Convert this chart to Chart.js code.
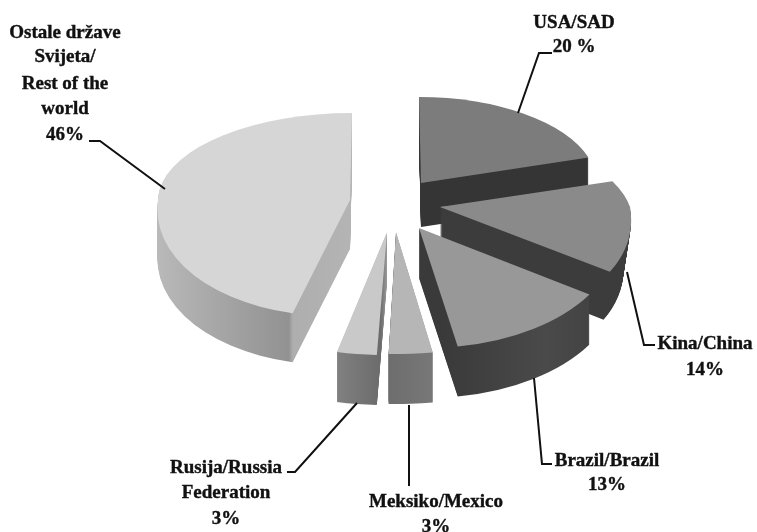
<!DOCTYPE html>
<html>
<head>
<meta charset="utf-8">
<style>html,body{margin:0;padding:0;background:#fff}canvas{display:block}</style>
<script src="https://cdn.jsdelivr.net/npm/chart.js@4"></script>
</head>
<body>
<canvas id="c" width="757" height="532"></canvas>
<script>
// ---- data ----
const categories = ['USA/SAD', 'Kina/China', 'Brazil/Brazil', 'Meksiko/Mexico', 'Rusija/Russia Federation', 'Ostale države Svijeta/Rest of the world'];
const values = [20, 14, 13, 3, 3, 46];
const labelLines = [
  ['USA/SAD', '20 %'],
  ['Kina/China', '14%'],
  ['Brazil/Brazil', '13%'],
  ['Meksiko/Mexico', '3%'],
  ['Rusija/Russia', 'Federation', '3%'],
  ['Ostale države', 'Svijeta/', 'Rest of the', 'world', '46%']
];
const topColors = ['#7c7c7c', '#8a8a8a', '#989898', '#b6b6b6', '#c9c9c9', '#d6d6d6'];

// ---- styling of the 3D view (not data) ----
const views = [
  {ax:421, ay:183, depth:44, rx:176, up:[86,.023], side:[[0,'#353535'],[1,'#353535']]},
  {ax:440, ay:207, depth:48, rx:190, taper:.04, up:[87,.35], down:[117,.18], side:[[0,'#3c3c3c'],[1,'#3c3c3c']]},
  {ax:419, ay:228, depth:50, rx:200, down:[120,.06], side:[[.5,'#3a3a3a'],[.55,'#3a3a3a'],[.8,'#4a4a4a'],[1,'#3e3e3e']]},
  {ax:396, ay:232, depth:50, rx:233, down:[122,0], side:[[.45,'#6a6a6a'],[.6,'#7a7a7a']]},
  {ax:387, ay:232, depth:50, rx:212, down:[123,-.028], side:[[.38,'#828282'],[.49,'#6c6c6c'],[.5,'#999']]},
  {ax:350, ay:200, depth:49, rx:192, up:[87,-.023], down:[116,-.133], side:[[0,'#bababa'],[.38,'#929292'],[.39,'#aeaeae'],[.5,'#b4b4b4']]}
];
const drawOrder = [0, 5, 1, 2, 4, 3];
const leaders = [
  [[518,113],[539,53],[552,53]],
  [[627,272],[644,345],[655,345]],
  [[534,378],[542,464],[552,464]],
  [[409,405],[409,486]],
  [[357,403],[295,472],[287,472]],
  [[165,189],[100,141],[89,141]]
];
const labelAnchors = [
  {x:574, ys:[28,52]},
  {x:705, ys:[349,375]},
  {x:607, ys:[466,490]},
  {x:436, ys:[507,532]},
  {x:226, ys:[473,498,524]},
  {x:65,  ys:[38,62,89,114,140]}
];

function drawArc(ctx, el, fill) {
  const proxyOpts = Object.create(el.options, {
    backgroundColor: {value: fill, enumerable: true},
    borderWidth: {value: 0, enumerable: true}
  });
  const proxy = Object.create(el, {options: {value: proxyOpts, writable: true}});
  Chart.ArcElement.prototype.draw.call(proxy, ctx);
}

function drawLayer(ctx, el, v, z, fill) {
  const R = el.outerRadius;
  const rx = v.rx * (1 - (v.taper || 0) * z / v.depth);
  const pieces = [];
  if (v.up) pieces.push({p: v.up, clip: v.down ? [0, 0, 757, v.ay + z + 0.5] : null});
  if (v.down) pieces.push({p: v.down, clip: v.up ? [0, v.ay + z - 0.5, 757, 532] : null});
  for (const {p, clip} of pieces) {
    ctx.save();
    if (clip) { ctx.beginPath(); ctx.rect(...clip); ctx.clip(); }
    ctx.translate(v.ax, v.ay + z);
    ctx.transform(rx / R, 0, p[1] * p[0] / R, p[0] / R, 0, 0);
    ctx.translate(-el.x, -el.y);
    const f = typeof fill === 'function' ? fill(ctx, el) : fill;
    drawArc(ctx, el, f);
    ctx.restore();
  }
}

const pie3d = {
  id: 'pie3d',
  beforeDatasetsDraw(chart) {
    const ctx = chart.ctx, meta = chart.getDatasetMeta(0);
    for (const i of drawOrder) {
      const el = meta.data[i], v = views[i];
      const sideFill = (c, e) => {
        const g = c.createLinearGradient(e.x - e.outerRadius, 0, e.x + e.outerRadius, 0);
        v.side.forEach(s => g.addColorStop(s[0], s[1]));
        return g;
      };
      for (let z = v.depth; z >= 1; z--) drawLayer(ctx, el, v, z, sideFill);
      drawLayer(ctx, el, v, 0, topColors[i]);
    }
    return false;
  },
  afterDraw(chart) {
    const ctx = chart.ctx;
    ctx.save();
    ctx.strokeStyle = '#111';
    ctx.lineWidth = 2;
    ctx.lineJoin = 'miter';
    leaders.forEach(path => {
      ctx.beginPath();
      path.forEach((p, k) => k ? ctx.lineTo(p[0], p[1]) : ctx.moveTo(p[0], p[1]));
      ctx.stroke();
    });
    ctx.fillStyle = '#111';
    ctx.lineWidth = 0.4;
    ctx.font = 'bold 19px "Liberation Serif", serif';
    ctx.textAlign = 'center';
    ctx.textBaseline = 'alphabetic';
    labelLines.forEach((lines, i) => {
      lines.forEach((t, k) => {
        ctx.fillText(t, labelAnchors[i].x, labelAnchors[i].ys[k]);
        ctx.strokeText(t, labelAnchors[i].x, labelAnchors[i].ys[k]);
      });
    });
    ctx.restore();
  }
};

new Chart(document.getElementById('c').getContext('2d'), {
  type: 'pie',
  data: {
    labels: categories,
    datasets: [{data: values, backgroundColor: topColors, borderWidth: 0}]
  },
  options: {
    responsive: false,
    animation: false,
    layout: {padding: {left: 33, bottom: 122}},
    plugins: {legend: {display: false}, tooltip: {enabled: false}, title: {display: false}}
  },
  plugins: [pie3d]
});
</script>
</body>
</html>
